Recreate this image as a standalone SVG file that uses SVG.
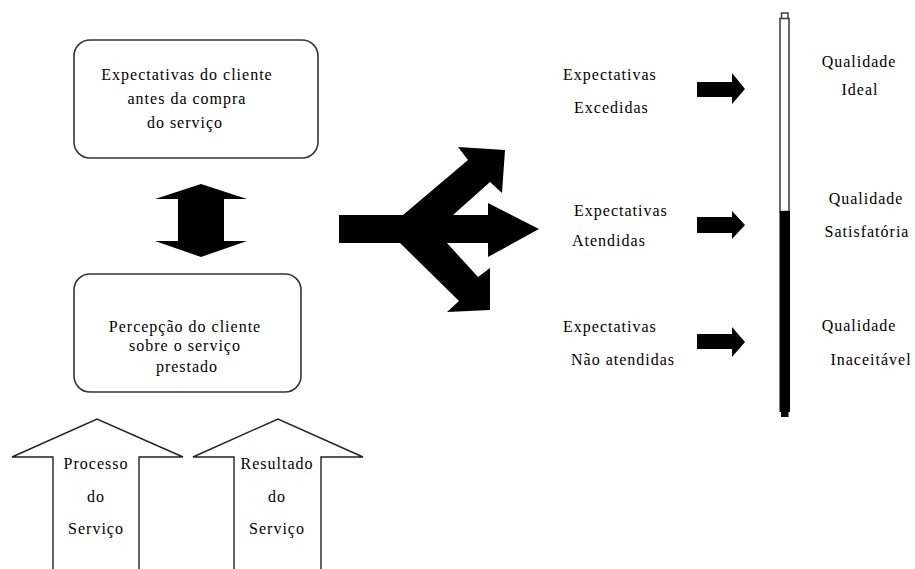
<svg xmlns="http://www.w3.org/2000/svg" width="915" height="569" viewBox="0 0 915 569">
  <style>
    text { font-family: "Liberation Serif", "Times New Roman", serif; font-size: 16px; fill: #000; letter-spacing: 1px; }
    .c { text-anchor: middle; }
    .box { fill: #fff; stroke: #333; stroke-width: 1.6; }
    .outline { fill: #fff; stroke: #222; stroke-width: 1.4; stroke-linejoin: miter; }
    .solid { fill: #000; stroke: none; }
  </style>
  <rect width="915" height="569" fill="#fff"/>

  <!-- expectations before purchase -->
  <g id="node-expectativas-cliente">
    <rect class="box" x="74" y="40" width="244" height="118" rx="16" ry="16"/>
    <text class="c" x="187" y="80">Expectativas do cliente</text>
    <text class="c" x="187" y="104">antes da compra</text>
    <text class="c" x="185" y="128">do serviço</text>
  </g>

  <!-- perception of the service delivered -->
  <g id="node-percepcao-cliente">
    <rect class="box" x="74" y="274" width="227" height="118" rx="16" ry="16"/>
    <text class="c" x="185" y="332">Percepção do cliente</text>
    <text class="c" x="185" y="351">sobre o serviço</text>
    <text class="c" x="187" y="372">prestado</text>
  </g>

  <!-- input arrows feeding the perception -->
  <g id="node-processo">
    <path class="outline" d="M53 569 V457 H12 L97 419 L183 457 H139 V569"/>
    <text class="c" x="96" y="469">Processo</text>
    <text class="c" x="96" y="502">do</text>
    <text class="c" x="96" y="534">Serviço</text>
  </g>
  <g id="node-resultado">
    <path class="outline" d="M234 569 V457 H193 L278 419 L363 457 H321 V569"/>
    <text class="c" x="277" y="469">Resultado</text>
    <text class="c" x="277" y="502">do</text>
    <text class="c" x="277" y="534">Serviço</text>
  </g>

  <!-- outcome labels -->
  <g id="node-excedidas">
    <text x="563" y="80">Expectativas</text>
    <text x="574" y="113">Excedidas</text>
  </g>
  <g id="node-atendidas">
    <text x="574" y="216">Expectativas</text>
    <text x="572" y="246">Atendidas</text>
  </g>
  <g id="node-nao-atendidas">
    <text x="563" y="332">Expectativas</text>
    <text x="571" y="365">Não atendidas</text>
  </g>

  <!-- quality scale -->
  <g id="node-escala">
    <rect x="781.5" y="13" width="6.5" height="6" fill="#fff" stroke="#333" stroke-width="1.4"/>
    <rect x="780" y="18.5" width="9" height="193" fill="#fff" stroke="#444" stroke-width="1.6"/>
    <rect x="779.5" y="211" width="10.5" height="201" fill="#000"/>
    <rect x="781" y="411" width="7.5" height="6" fill="#000"/>
  </g>
  <g id="node-ideal">
    <text class="c" x="859" y="67">Qualidade</text>
    <text class="c" x="860" y="95">Ideal</text>
  </g>
  <g id="node-satisfatoria">
    <text class="c" x="866" y="204">Qualidade</text>
    <text class="c" x="867" y="237">Satisfatória</text>
  </g>
  <g id="node-inaceitavel">
    <text class="c" x="859" y="331">Qualidade</text>
    <text class="c" x="871" y="365">Inaceitável</text>
  </g>

  <!-- connectors -->
  <g id="connectors">
    <!-- two-way arrow between expectation and perception -->
    <path class="solid" d="M201 184 L247 199 H224 V241 H247 L201 257 L155 241 H178 V199 H155 Z"/>
    <!-- branching arrow -->
    <path class="solid" d="M339 215 H403 L468 160 L458 147 L505 150 L502 193 L490 182 L453 215 H488 V203 L539 229 L488 257 V243 H447 L478 277 L490 268 V310 L447 312 L459 301 L400 243 H339 Z"/>
    <!-- arrows to the quality scale -->
    <path class="solid" d="M697 82 H732 V73 L745 89 L732 104 V97 H697 Z"/>
    <path class="solid" d="M697 217 H732 V211 L745 225 L732 239 V233 H697 Z"/>
    <path class="solid" d="M697 334 H732 V327 L745 342 L732 357 V349 H697 Z"/>
  </g>
</svg>
